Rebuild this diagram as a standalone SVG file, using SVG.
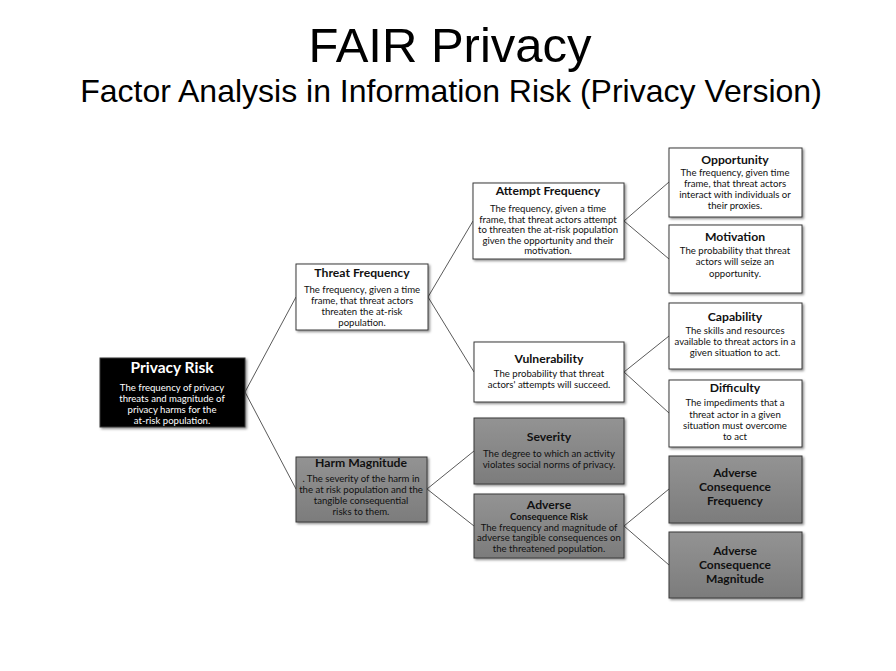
<svg xmlns="http://www.w3.org/2000/svg" width="896" height="671" viewBox="0 0 896 671">
<defs>
<filter id="sh" x="-10%" y="-10%" width="130%" height="130%"><feDropShadow dx="1.5" dy="1.5" stdDeviation="0.8" flood-color="#000" flood-opacity="0.45"/></filter>
<linearGradient id="gg" x1="0" y1="0" x2="0" y2="1"><stop offset="0" stop-color="#939393"/><stop offset="1" stop-color="#7c7c7c"/></linearGradient>
</defs>
<style>
.w{fill:#fff;stroke:#3a3a3a;stroke-width:1}
.g{fill:url(#gg);stroke:#3a3a3a;stroke-width:1}
.k{fill:#000;stroke:#3a3a3a;stroke-width:1}
text{font-family:Lato,"Open Sans","Liberation Sans",sans-serif;text-anchor:middle;fill:#111}
.t{font-weight:bold;font-size:12.2px}
.b{font-size:9.6px}
.wt{fill:#fff}
.big{font-weight:bold;font-size:12px}
.conn{stroke:#5a5a5a;stroke-width:1;fill:none}
</style>
<rect width="896" height="671" fill="#fff"/>
<text x="450" y="62" style="font-family:'Liberation Sans',Arial,sans-serif;font-size:49px;fill:#000">FAIR Privacy</text>
<text x="451" y="102" style="font-family:'Liberation Sans',Arial,sans-serif;font-size:32px;fill:#000">Factor Analysis in Information Risk (Privacy Version)</text>
<g id="connectors" class="conn">
<path d="M245 392 L296 297 M245 392 L296 489"/>
<path d="M428 297 L473 221 M428 297 L474 372"/>
<path d="M624 221 L669 182 M624 221 L669 259"/>
<path d="M624 372 L669 336 M624 372 L669 413"/>
<path d="M427 489 L474 451 M427 489 L474 526"/>
<path d="M624 526 L669 489 M624 526 L669 565"/>
</g>
<g id="privacy-risk">
<rect class="k" x="100" y="358" width="145" height="69" filter="url(#sh)"/>
<text class="wt" x="172" y="373" style="font-weight:bold;font-size:15.5px">Privacy Risk</text>
<text class="b wt" x="172" y="391">The frequency of  privacy</text>
<text class="b wt" x="172" y="402">threats and magnitude of</text>
<text class="b wt" x="172" y="413">privacy harms for the</text>
<text class="b wt" x="172" y="424">at-risk population.</text>
</g>
<g id="threat-frequency">
<rect class="w" x="296" y="264" width="132" height="66" filter="url(#sh)"/>
<text class="t" x="362" y="277">Threat Frequency</text>
<text class="b" x="362" y="293">The frequency, given a time</text>
<text class="b" x="362" y="304">frame, that threat actors</text>
<text class="b" x="362" y="315">threaten the at-risk</text>
<text class="b" x="362" y="326">population.</text>
</g>
<g id="attempt-frequency">
<rect class="w" x="473" y="183" width="151" height="76" filter="url(#sh)"/>
<text class="t" x="548" y="195">Attempt Frequency</text>
<text class="b" x="548" y="212">The frequency, given a time</text>
<text class="b" x="548" y="222.5">frame, that threat actors attempt</text>
<text class="b" x="548" y="233">to threaten the at-risk population</text>
<text class="b" x="548" y="243.5">given the opportunity and their</text>
<text class="b" x="548" y="254">motivation.</text>
</g>
<g id="opportunity">
<rect class="w" x="669" y="148" width="133" height="69" filter="url(#sh)"/>
<text class="t" x="735" y="164">Opportunity</text>
<text class="b" x="735" y="175.5">The frequency, given time</text>
<text class="b" x="735" y="186.5">frame, that threat actors</text>
<text class="b" x="735" y="197.5">interact with individuals or</text>
<text class="b" x="735" y="208.5">their proxies.</text>
</g>
<g id="motivation">
<rect class="w" x="669" y="225" width="133" height="68" filter="url(#sh)"/>
<text class="t" x="735" y="241">Motivation</text>
<text class="b" x="735" y="253.5">The probability that threat</text>
<text class="b" x="735" y="265">actors will seize an</text>
<text class="b" x="735" y="276.5">opportunity.</text>
</g>
<g id="vulnerability">
<rect class="w" x="474" y="342" width="150" height="60" filter="url(#sh)"/>
<text class="t" x="549" y="363">Vulnerability</text>
<text class="b" x="549" y="377">The probability that threat</text>
<text class="b" x="549" y="388">actors' attempts will succeed.</text>
</g>
<g id="capability">
<rect class="w" x="669" y="303" width="133" height="66" filter="url(#sh)"/>
<text class="t" x="735" y="321">Capability</text>
<text class="b" x="735" y="334">The skills and resources</text>
<text class="b" x="735" y="345">available to threat actors in a</text>
<text class="b" x="735" y="356">given situation to act.</text>
</g>
<g id="difficulty">
<rect class="w" x="669" y="380" width="133" height="67" filter="url(#sh)"/>
<text class="t" x="735" y="392">Difficulty</text>
<text class="b" x="735" y="406">The impediments that a</text>
<text class="b" x="735" y="417.5">threat actor in a given</text>
<text class="b" x="735" y="429">situation must overcome</text>
<text class="b" x="735" y="440">to act</text>
</g>
<g id="harm-magnitude">
<rect class="g" x="296" y="457" width="131" height="65" filter="url(#sh)"/>
<text class="t" x="361" y="467">Harm Magnitude</text>
<text class="b" x="361" y="482">. The severity of the harm in</text>
<text class="b" x="361" y="493">the at risk population and the</text>
<text class="b" x="361" y="504">tangible consequential</text>
<text class="b" x="361" y="515">risks to them.</text>
</g>
<g id="severity">
<rect class="g" x="474" y="418" width="150" height="66" filter="url(#sh)"/>
<text class="t" x="549" y="441">Severity</text>
<text class="b" x="549" y="457">The degree to which an activity</text>
<text class="b" x="549" y="468">violates social norms of privacy.</text>
</g>
<g id="adverse-consequence-risk">
<rect class="g" x="474" y="494" width="150" height="64" filter="url(#sh)"/>
<text class="t" x="549" y="509">Adverse</text>
<text x="549" y="520" style="font-weight:bold;font-size:9.6px">Consequence Risk</text>
<text class="b" x="549" y="530.5">The frequency and magnitude of</text>
<text class="b" x="549" y="541">adverse tangible consequences on</text>
<text class="b" x="549" y="551.5">the threatened population.</text>
</g>
<g id="adverse-consequence-frequency">
<rect class="g" x="669" y="456" width="133" height="67" filter="url(#sh)"/>
<text class="big" x="735" y="477">Adverse</text>
<text class="big" x="735" y="491">Consequence</text>
<text class="big" x="735" y="505">Frequency</text>
</g>
<g id="adverse-consequence-magnitude">
<rect class="g" x="669" y="532" width="133" height="66" filter="url(#sh)"/>
<text class="big" x="735" y="555">Adverse</text>
<text class="big" x="735" y="569">Consequence</text>
<text class="big" x="735" y="583">Magnitude</text>
</g>
</svg>
